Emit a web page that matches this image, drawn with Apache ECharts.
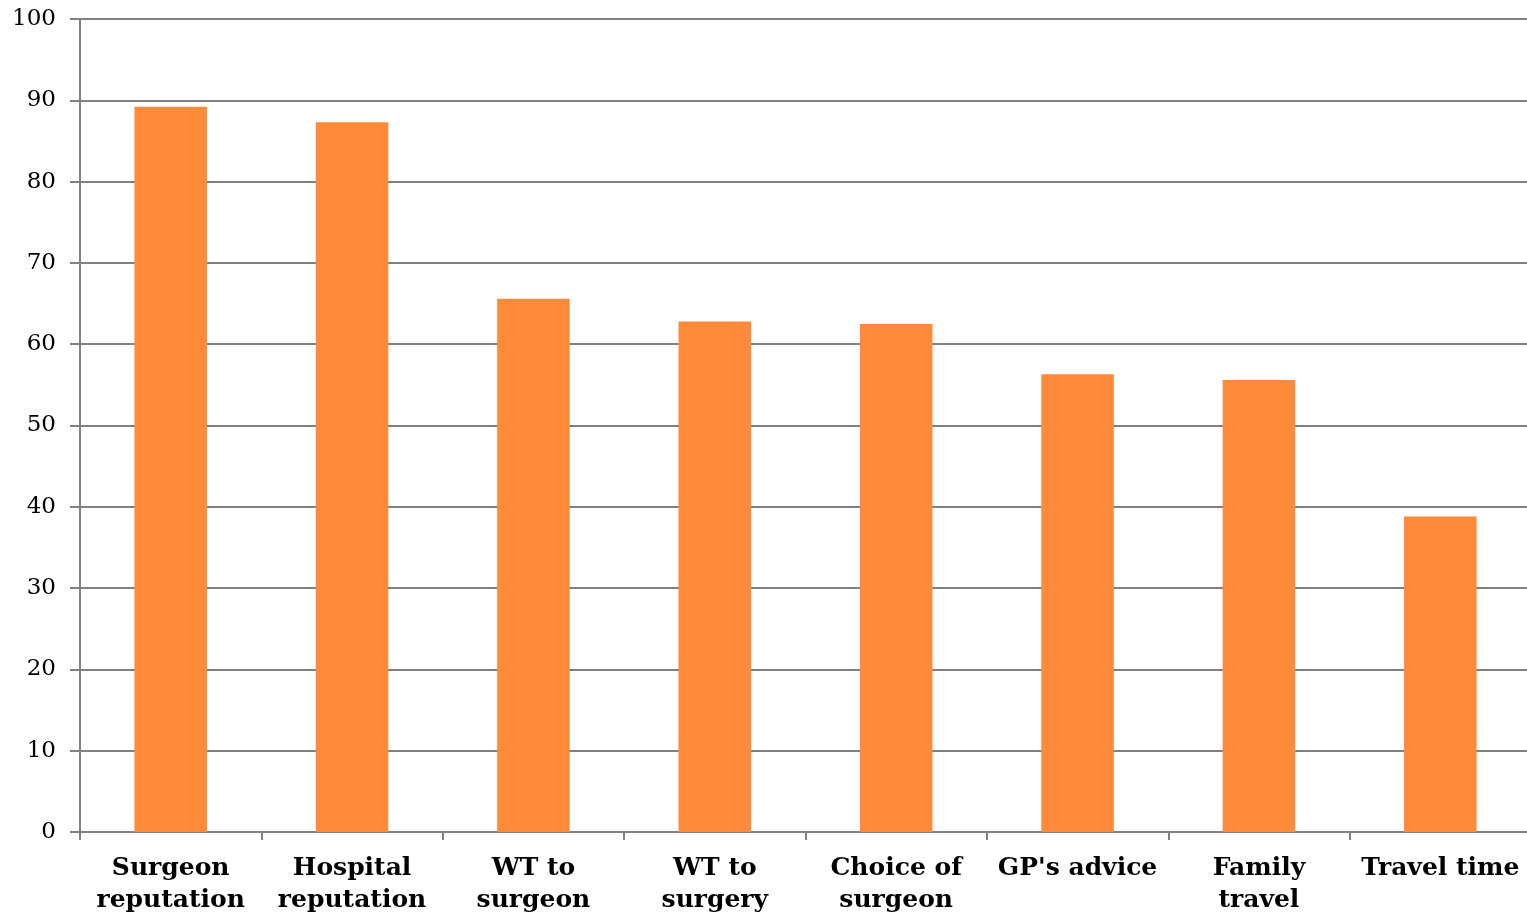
<!DOCTYPE html>
<html>
<head>
<meta charset="utf-8">
<script src="https://cdn.jsdelivr.net/npm/echarts@6/dist/echarts.min.js"></script>
<style>
  html, body { margin: 0; padding: 0; background: #fff; overflow: hidden; }
  #chart { width: 1527px; height: 914px; }
</style>
</head>
<body>
<div id="chart"></div>
<script>
// Factors influencing choice (%)
const categories = [
  'Surgeon\nreputation', 'Hospital\nreputation', 'WT to\nsurgeon', 'WT to\nsurgery',
  'Choice of\nsurgeon', "GP's advice", 'Family\ntravel', 'Travel time'
];
const values = [89.2, 87.3, 65.6, 62.8, 62.5, 56.3, 55.6, 38.8];

const axisGray = '#808080';
const chart = echarts.init(document.getElementById('chart'));
chart.setOption({
  animation: false,
  grid: {
    left: 80, width: 1451, top: 19, bottom: 82,
    containLabel: false, outerBoundsMode: 'none'
  },
  xAxis: {
    type: 'category',
    data: categories,
    axisLine: { lineStyle: { color: axisGray, width: 2 } },
    axisTick: { show: true, length: 8, lineStyle: { color: axisGray, width: 2 } },
    axisLabel: {
      interval: 0, margin: 20, color: '#000', lineHeight: 32,
      fontFamily: 'DejaVu Serif', fontWeight: 'bold', fontSize: 25
    }
  },
  yAxis: {
    type: 'value', min: 0, max: 100, interval: 10,
    axisLine: { show: true, lineStyle: { color: axisGray, width: 2 } },
    axisTick: { show: true, length: 10, lineStyle: { color: axisGray, width: 2 } },
    splitLine: { lineStyle: { color: axisGray, width: 2 } },
    axisLabel: { margin: 24, color: '#000', fontFamily: 'DejaVu Serif', fontSize: 23 }
  },
  series: [{
    type: 'bar',
    data: values,
    barWidth: '40%',
    itemStyle: { color: '#FF8A3A' }
  }]
});
</script>
</body>
</html>
